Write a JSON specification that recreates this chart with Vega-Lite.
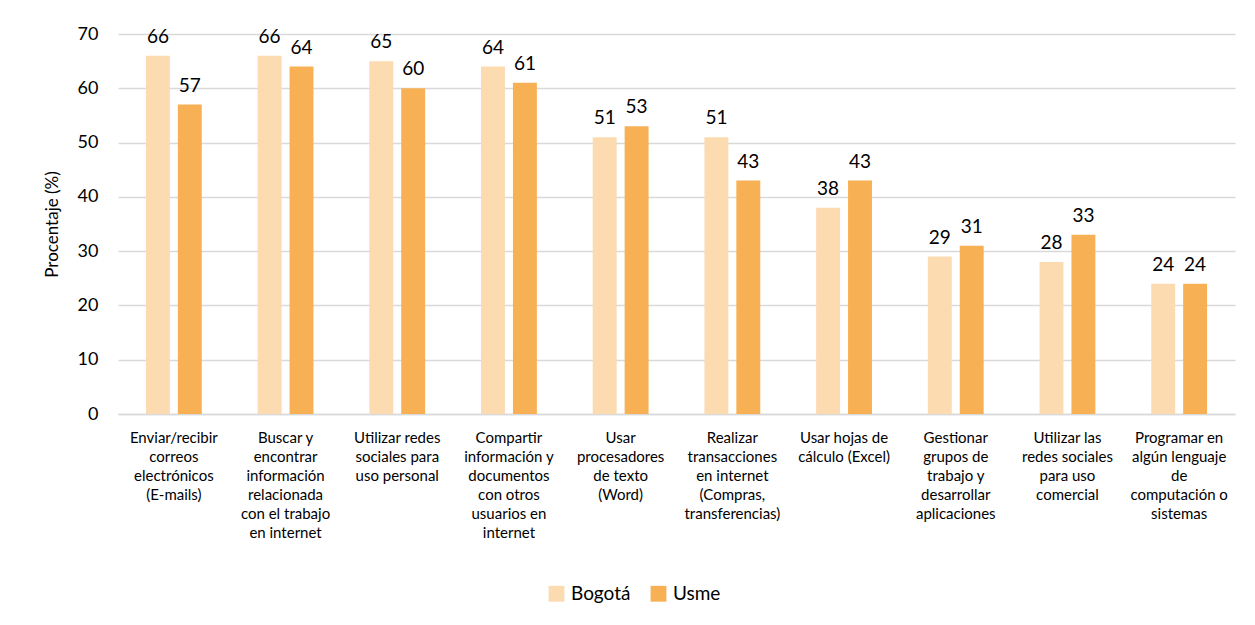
{
  "$schema": "https://vega.github.io/schema/vega-lite/v6.json",
  "width": 1117,
  "height": 380,
  "autosize": {"type": "none"},
  "padding": {"left": 118, "top": 34, "right": 20, "bottom": 211},
  "background": "white",
  "data": {
    "values": [
      {"actividad": "Enviar/recibir|correos|electrónicos|(E-mails)", "orden": 1, "zona": "Bogotá", "valor": 66},
      {"actividad": "Enviar/recibir|correos|electrónicos|(E-mails)", "orden": 1, "zona": "Usme", "valor": 57},
      {"actividad": "Buscar y|encontrar|información|relacionada|con el trabajo|en internet", "orden": 2, "zona": "Bogotá", "valor": 66},
      {"actividad": "Buscar y|encontrar|información|relacionada|con el trabajo|en internet", "orden": 2, "zona": "Usme", "valor": 64},
      {"actividad": "Utilizar redes|sociales para|uso personal", "orden": 3, "zona": "Bogotá", "valor": 65},
      {"actividad": "Utilizar redes|sociales para|uso personal", "orden": 3, "zona": "Usme", "valor": 60},
      {"actividad": "Compartir|información y|documentos|con otros|usuarios en|internet", "orden": 4, "zona": "Bogotá", "valor": 64},
      {"actividad": "Compartir|información y|documentos|con otros|usuarios en|internet", "orden": 4, "zona": "Usme", "valor": 61},
      {"actividad": "Usar|procesadores|de texto|(Word)", "orden": 5, "zona": "Bogotá", "valor": 51},
      {"actividad": "Usar|procesadores|de texto|(Word)", "orden": 5, "zona": "Usme", "valor": 53},
      {"actividad": "Realizar|transacciones|en internet|(Compras,|transferencias)", "orden": 6, "zona": "Bogotá", "valor": 51},
      {"actividad": "Realizar|transacciones|en internet|(Compras,|transferencias)", "orden": 6, "zona": "Usme", "valor": 43},
      {"actividad": "Usar hojas de|cálculo (Excel)", "orden": 7, "zona": "Bogotá", "valor": 38},
      {"actividad": "Usar hojas de|cálculo (Excel)", "orden": 7, "zona": "Usme", "valor": 43},
      {"actividad": "Gestionar|grupos de|trabajo y|desarrollar|aplicaciones", "orden": 8, "zona": "Bogotá", "valor": 29},
      {"actividad": "Gestionar|grupos de|trabajo y|desarrollar|aplicaciones", "orden": 8, "zona": "Usme", "valor": 31},
      {"actividad": "Utilizar las|redes sociales|para uso|comercial", "orden": 9, "zona": "Bogotá", "valor": 28},
      {"actividad": "Utilizar las|redes sociales|para uso|comercial", "orden": 9, "zona": "Usme", "valor": 33},
      {"actividad": "Programar en|algún lenguaje|de|computación o|sistemas", "orden": 10, "zona": "Bogotá", "valor": 24},
      {"actividad": "Programar en|algún lenguaje|de|computación o|sistemas", "orden": 10, "zona": "Usme", "valor": 24}
    ]
  },
  "encoding": {
    "x": {
      "field": "actividad",
      "type": "nominal",
      "sort": {"field": "orden", "op": "min"},
      "scale": {"paddingInner": 0.5, "paddingOuter": 0.25},
      "axis": {
        "title": null,
        "labelAngle": 0,
        "labelExpr": "split(datum.label, '|')",
        "labelFont": "Lato",
        "labelFontSize": 15,
        "labelColor": "#000000",
        "labelLineHeight": 19,
        "labelPadding": 16,
        "labelBaseline": "top",
        "labelLimit": 200,
        "ticks": false,
        "domainColor": "#d9d9d9",
        "domainWidth": 1.5,
        "grid": false
      }
    },
    "xOffset": {"field": "zona", "type": "nominal", "scale": {"paddingInner": 0.25, "paddingOuter": 0}},
    "y": {
      "field": "valor",
      "type": "quantitative",
      "scale": {"domain": [0, 70], "nice": false},
      "axis": {
        "title": "Procentaje (%)",
        "titleFont": "Lato",
        "titleFontSize": 17,
        "titleFontWeight": "normal",
        "titleColor": "#000000",
        "titlePadding": 16,
        "values": [0, 10, 20, 30, 40, 50, 60, 70],
        "labelOverlap": false,
        "labelFont": "Lato",
        "labelFontSize": 18,
        "labelColor": "#000000",
        "labelPadding": 20,
        "ticks": false,
        "domain": false,
        "gridColor": "#d9d9d9",
        "gridWidth": 1.5
      }
    }
  },
  "layer": [
    {
      "mark": {"type": "bar"},
      "encoding": {
        "color": {
          "field": "zona",
          "type": "nominal",
          "scale": {"domain": ["Bogotá", "Usme"], "range": ["#FCDBB1", "#F7B154"]},
          "legend": {
            "title": null,
            "orient": "none",
            "direction": "horizontal",
            "legendX": 429,
            "legendY": 550,
            "symbolType": "square",
            "symbolSize": 250,
            "symbolStrokeWidth": 0,
            "labelFont": "Lato",
            "labelFontSize": 19,
            "labelColor": "#000000",
            "columnPadding": 18,
            "labelOffset": 5
          }
        }
      }
    },
    {
      "mark": {"type": "text", "baseline": "bottom", "dy": -9, "font": "Lato", "fontSize": 19, "color": "#000000"},
      "encoding": {
        "text": {"field": "valor", "type": "quantitative"}
      }
    }
  ],
  "config": {"view": {"stroke": null}}
}
